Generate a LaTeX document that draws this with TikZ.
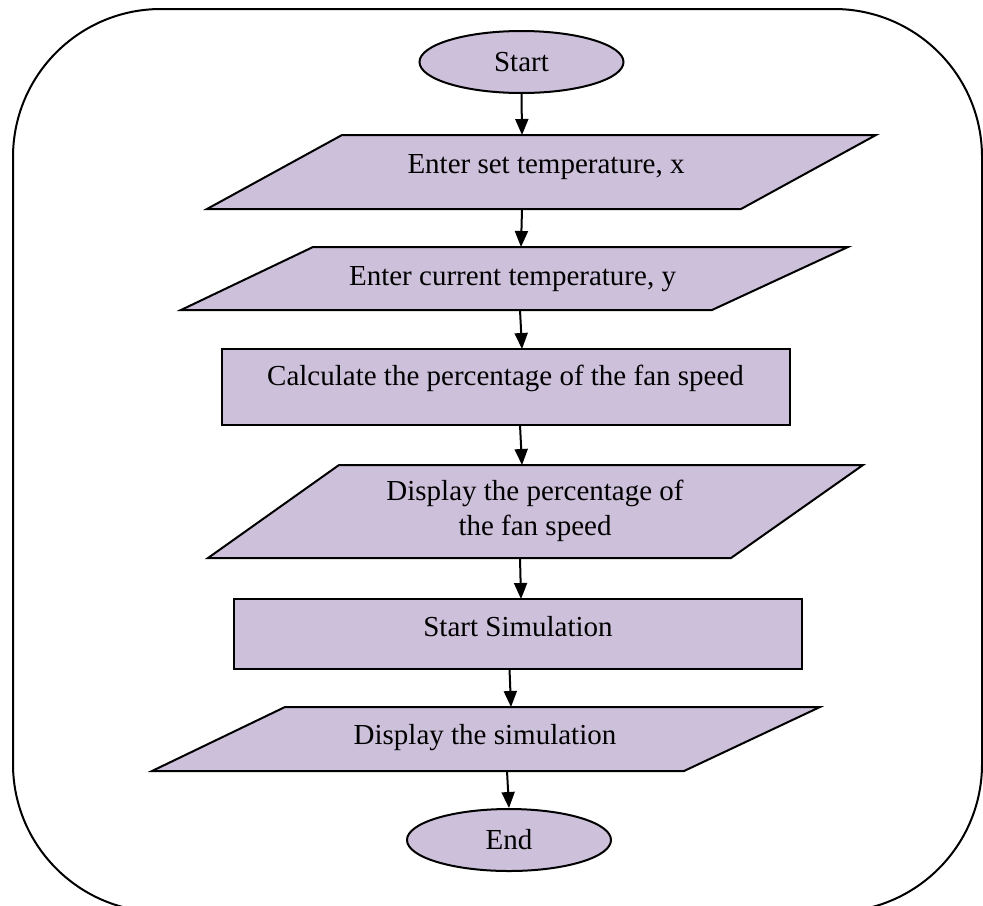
\documentclass[tikz,border=0pt]{standalone}
\usepackage{fontspec}
\setmainfont{Liberation Serif}
\usetikzlibrary{arrows.meta,shapes.geometric}
\definecolor{lilac}{RGB}{204,192,218}
\begin{document}
\begin{tikzpicture}[x=0.5pt,y=-0.5pt,
  box/.style={fill=lilac,draw=black,line width=1pt,line join=miter},
  lbl/.style={font=\fontsize{14.5pt}{17.5pt}\selectfont,inner sep=0pt,anchor=base},
  arr/.style={line width=1pt,-{Triangle[length=8pt,width=6.5pt]}},
  term/.style={ellipse,fill=lilac,draw=black,line width=1pt,minimum width=102pt,
    minimum height=31pt,inner sep=0pt,font=\fontsize{14.5pt}{17.5pt}\selectfont}]
\useasboundingbox (0,0) rectangle (983,905);
\clip (0,0) rectangle (983,905);
% outer frame
\draw[line width=1pt,rounded corners=74pt] (13,9) rectangle (982,912);

% Start
\node[term] (start) at (521.5,62) {Start};

% Parallelogram 1
\path[box] (342,135) -- (876,135) -- (741,209) -- (207,209) -- cycle;
\node[lbl] (t1) at (546,173) {Enter set temperature, x};
\coordinate (p1n) at (522,135);
\coordinate (p1s) at (522,209);

% Parallelogram 2
\path[box] (313,247) -- (848,247) -- (712,310) -- (181,310) -- cycle;
\node[lbl] (t2) at (512.5,285) {Enter current temperature, y};
\coordinate (p2n) at (521,247);
\coordinate (p2s) at (520,310);

% Rectangle 1
\path[box] (222,349) rectangle (790,425);
\node[lbl] (t3) at (505.5,385) {Calculate the percentage of the fan speed};
\coordinate (r1n) at (522,349);
\coordinate (r1s) at (520,425);

% Parallelogram 3
\path[box] (339,465) -- (863,465) -- (731,558) -- (208,558) -- cycle;
\node[lbl] (t4a) at (535,500) {Display the percentage of};
\node[lbl] (t4b) at (535,535) {the fan speed};
\coordinate (p3n) at (522,465);
\coordinate (p3s) at (520,558);

% Rectangle 2
\path[box] (234,599) rectangle (802,669);
\node[lbl] (t5) at (518,636) {Start Simulation};
\coordinate (r2n) at (521,599);
\coordinate (r2s) at (509.5,669);

% Parallelogram 4
\path[box] (285,707) -- (820,707) -- (684,771) -- (152,771) -- cycle;
\node[lbl] (t6) at (485,744) {Display the simulation};
\coordinate (p4n) at (511,707);
\coordinate (p4s) at (507,771);

% End
\node[term] (end) at (509,840) {End};

% connectors
\draw[arr] (start.south) -- (p1n);
\draw[arr] (p1s) -- (p2n);
\draw[arr] (p2s) -- (r1n);
\draw[arr] (r1s) -- (p3n);
\draw[arr] (p3s) -- (r2n);
\draw[arr] (r2s) -- (p4n);
\draw[arr] (p4s) -- (end.north);
\end{tikzpicture}
\end{document}
